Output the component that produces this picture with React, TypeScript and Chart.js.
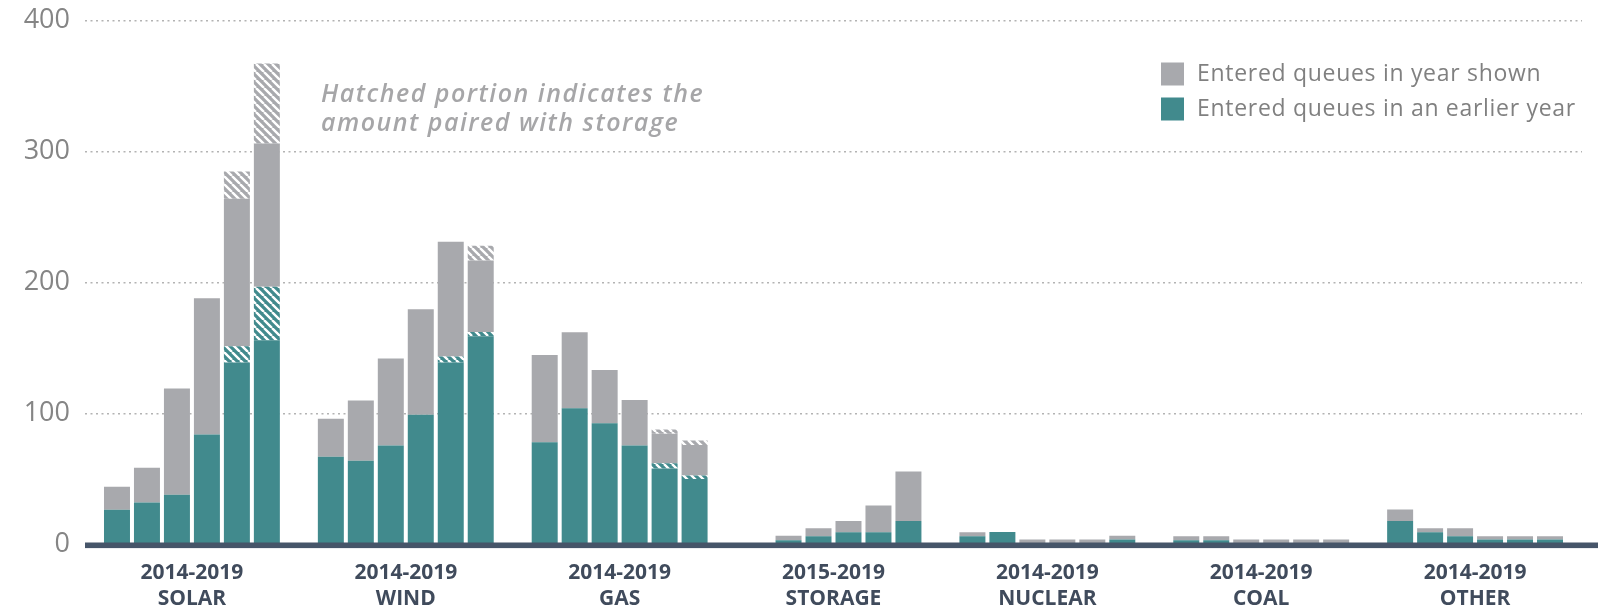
import React, { useEffect, useRef } from 'react';
import { Chart, registerables } from 'chart.js';

Chart.register(...registerables);

// ---------- data ----------
const categories: string[][] = [
  ['2014-2019', 'SOLAR'],
  ['2014-2019', 'WIND'],
  ['2014-2019', 'GAS'],
  ['2015-2019', 'STORAGE'],
  ['2014-2019', 'NUCLEAR'],
  ['2014-2019', 'COAL'],
  ['2014-2019', 'OTHER'],
];
const years = ['2014', '2015', '2016', '2017', '2018', '2019'];

// rows = categories, columns = years (GW)
const earlierSolid: (number | null)[][] = [
  [26.5, 32, 38, 84, 139, 156],
  [67, 64, 75.5, 99, 139, 159],
  [78, 104, 92.5, 75.5, 58, 50],
  [null, 3.3, 6.3, 9.4, 9.4, 18],
  [6.3, 9.6, 0, 0, 0, 3.8],
  [3.3, 3.3, 0, 0, 0, 0],
  [18, 9.4, 6.3, 3.8, 3.8, 3.8],
];
const earlierPaired: (number | null)[][] = [
  [0, 0, 0, 0, 12.4, 40.7],
  [0, 0, 0, 0, 4.5, 3.3],
  [0, 0, 0, 0, 4, 2.7],
  [null, 0, 0, 0, 0, 0],
  [0, 0, 0, 0, 0, 0],
  [0, 0, 0, 0, 0, 0],
  [0, 0, 0, 0, 0, 0],
];
const newSolid: (number | null)[][] = [
  [17.5, 26.5, 81, 104, 112.6, 109.4],
  [29, 46, 66.5, 80.6, 87.7, 54.5],
  [66.6, 58, 40.7, 34.8, 22.5, 23.3],
  [null, 3.3, 6.1, 8.6, 20.4, 37.7],
  [3.1, 0, 3.8, 3.8, 3.8, 2.8],
  [3, 3, 3.8, 3.8, 3.8, 3.8],
  [8.7, 3, 6.1, 2.5, 2.5, 2.5],
];
const newPaired: (number | null)[][] = [
  [0, 0, 0, 0, 20.7, 61],
  [0, 0, 0, 0, 0, 11.2],
  [0, 0, 0, 0, 3.3, 3.4],
  [null, 0, 0, 0, 0, 0],
  [0, 0, 0, 0, 0, 0],
  [0, 0, 0, 0, 0, 0],
  [0, 0, 0, 0, 0, 0],
];
const yTicks = [0, 100, 200, 300, 400];
const legendLabels = ['Entered queues in year shown', 'Entered queues in an earlier year'];
const noteLines = ['Hatched portion indicates the', 'amount paired with storage'];

// ---------- style ----------
const TEAL = '#418a8d';
const GRAY = '#a8a9ad';
const AXIS = '#465569';
const FONT = "'Open Sans', sans-serif";

function makeHatch(color: string): CanvasPattern | string {
  const size = 8;
  const c = document.createElement('canvas');
  c.width = size;
  c.height = size;
  const g = c.getContext('2d');
  if (!g) return color;
  g.fillStyle = color;
  g.fillRect(0, 0, size, size);
  g.strokeStyle = '#ffffff';
  g.lineWidth = 2.4;
  g.beginPath();
  for (const off of [-size, 0, size]) {
    g.moveTo(off, 0);
    g.lineTo(off + size, size);
  }
  g.stroke();
  return g.createPattern(c, 'repeat') || color;
}

const decorPlugin = {
  id: 'decor',
  afterDatasetsDraw(chart: any) {
    const { ctx, chartArea } = chart;
    const y0 = chart.scales.y.getPixelForValue(0);
    ctx.save();
    ctx.fillStyle = AXIS;
    ctx.fillRect(chartArea.left, y0 - 2, chart.width - chartArea.left, 5.6);
    ctx.restore();
  },
  afterDraw(chart: any) {
    const { ctx } = chart;
    ctx.save();
    // legend
    const colors = [GRAY, TEAL];
    const rowsY = [62.5, 97.5];
    ctx.textBaseline = 'middle';
    ctx.textAlign = 'left';
    ctx.font = `400 23px ${FONT}`;
    try { (ctx as any).letterSpacing = '0.7px'; } catch (e) {}
    legendLabels.forEach((t, i) => {
      ctx.fillStyle = colors[i];
      ctx.fillRect(1161, rowsY[i], 23, 23);
      ctx.fillStyle = '#808080';
      ctx.fillText(t, 1197, rowsY[i] + 11.5);
    });
    // note
    ctx.font = `italic 600 25px ${FONT}`;
    try { (ctx as any).letterSpacing = '1.5px'; } catch (e) {}
    ctx.fillStyle = '#a6a6a8';
    ctx.textBaseline = 'alphabetic';
    noteLines.forEach((t, i) => {
      ctx.fillText(t, 321, 101.5 + i * 29.5);
    });
    ctx.restore();
  },
};

export default function App() {
  const ref = useRef<HTMLCanvasElement | null>(null);

  useEffect(() => {
    if (!ref.current) return;
    const tealHatch = makeHatch(TEAL);
    const grayHatch = makeHatch(GRAY);
    const segs = [
      { name: 'Earlier year', data: earlierSolid, color: TEAL as any },
      { name: 'Earlier year (paired w/ storage)', data: earlierPaired, color: tealHatch as any },
      { name: 'Year shown', data: newSolid, color: GRAY as any },
      { name: 'Year shown (paired w/ storage)', data: newPaired, color: grayHatch as any },
    ];
    const datasets: any[] = [];
    years.forEach((yr, yi) => {
      segs.forEach((s) => {
        datasets.push({
          label: `${s.name} ${yr}`,
          stack: yr,
          data: categories.map((_, ci) => s.data[ci][yi]),
          backgroundColor: s.color,
          borderWidth: 0,
          categoryPercentage: 0.841,
          barPercentage: 0.867,
        });
      });
    });

    const chart = new Chart(ref.current, {
      type: 'bar',
      data: { labels: categories as any, datasets },
      options: {
        responsive: false,
        animation: false,
        devicePixelRatio: 1,
        layout: { padding: { top: 20.5, right: 16, left: 0, bottom: 0 } },
        plugins: {
          legend: { display: false },
          tooltip: { enabled: false },
        },
        scales: {
          x: {
            stacked: true,
            grid: { display: false, drawTicks: false },
            border: { display: false },
            ticks: {
              autoSkip: false,
              maxRotation: 0,
              padding: 16,
              color: '#404b5c',
              font: { family: FONT, size: 21, weight: 'bold', lineHeight: 1.22 },
            },
            afterFit: (s: any) => { s.height = 63.5; s.paddingLeft = 0; s.paddingRight = 0; },
          },
          y: {
            stacked: true,
            min: 0,
            max: 400,
            afterBuildTicks: (s: any) => { s.ticks = yTicks.map((v) => ({ value: v })); },
            grid: {
              drawTicks: false,
              lineWidth: 1.5,
              color: (c: any) => (c.tick && c.tick.value === 0 ? 'rgba(0,0,0,0)' : '#b3b3b3'),
            },
            border: { display: false, dash: [2, 3.5] },
            ticks: {
              padding: 15,
              color: '#858585',
              font: { family: FONT, size: 27, weight: 'normal' },
            },
            afterFit: (s: any) => { s.width = 85; s.paddingTop = 0; s.paddingBottom = 0; },
          },
        },
      },
      plugins: [decorPlugin],
    });
    return () => chart.destroy();
  }, []);

  return (
    <div style={{ position: 'absolute', left: 0, top: 0, width: 1598, height: 608, background: '#fff' }}>
      <canvas ref={ref} width={1598} height={608} style={{ width: 1598, height: 608, display: 'block' }} />
    </div>
  );
}
